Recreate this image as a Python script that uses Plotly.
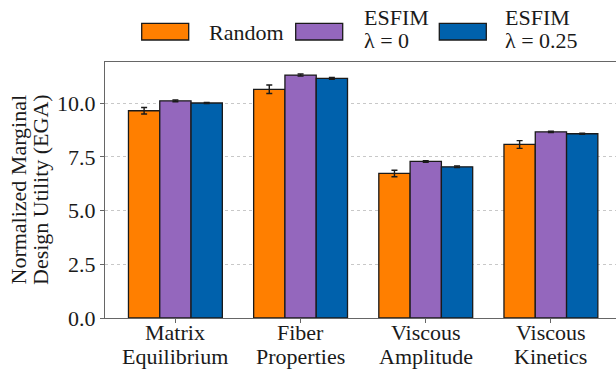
import plotly.graph_objects as go

# ---- data -------------------------------------------------------------
categories = ["Matrix Equilibrium", "Fiber Properties", "Viscous Amplitude", "Viscous Kinetics"]
cat_line1 = ["Matrix", "Fiber", "Viscous", "Viscous"]
cat_line2 = ["Equilibrium", "Properties", "Amplitude", "Kinetics"]

random_vals = [9.65, 10.65, 6.73, 8.08]
random_err = [0.15, 0.20, 0.15, 0.18]

esfim0_vals = [10.11, 11.31, 7.29, 8.67]
esfim0_err = [0.04, 0.05, 0.04, 0.03]

esfim25_vals = [10.01, 11.16, 7.04, 8.58]
esfim25_err = [0.03, 0.04, 0.04, 0.03]

series_names = ["Random", "ESFIM\nλ = 0", "ESFIM\nλ = 0.25"]
series_colors = ["#FF7F00", "#9467BD", "#0061AC"]

y_ticks = [0.0, 2.5, 5.0, 7.5, 10.0]
y_title_lines = ["Normalized Marginal", "Design Utility (EGA)"]

# ---- style ------------------------------------------------------------
FONT = "'Liberation Serif', 'DejaVu Serif', serif"
FS = 22
TXT = "#1a1a1a"
SPINE = "#666666"
W, H = 616, 371
ML, MT, MB = 105, 62, 53
PLOT_W = W - ML
PLOT_H = H - MT - MB


def px_x(px):
    """pixel column -> paper x"""
    return (px - ML) / PLOT_W


def px_y(py):
    """pixel row -> paper y"""
    return (H - MB - py) / PLOT_H


x_pos = list(range(len(categories)))
fig = go.Figure()

for vals, errs, name, color in zip(
    [random_vals, esfim0_vals, esfim25_vals],
    [random_err, esfim0_err, esfim25_err],
    series_names,
    series_colors,
):
    fig.add_trace(
        go.Bar(
            x=x_pos,
            y=vals,
            name=name.replace("\n", " "),
            marker=dict(color=color, line=dict(color=TXT, width=1.3)),
            error_y=dict(type="data", array=errs, color=TXT, thickness=1.4, width=3),
            showlegend=False,
        )
    )

fig.update_layout(
    width=W,
    height=H,
    margin=dict(l=ML, r=0, t=MT, b=MB),
    paper_bgcolor="white",
    plot_bgcolor="white",
    barmode="group",
    bargap=0.25,
    bargroupgap=0.0,
    font=dict(family=FONT, size=FS, color=TXT),
)

fig.update_xaxes(
    range=[-0.5625, 3.52],
    tickvals=x_pos,
    showticklabels=False,
    ticks="outside",
    ticklen=4,
    tickcolor=SPINE,
    showgrid=False,
    showline=True,
    linecolor=SPINE,
    linewidth=1.2,
    mirror=True,
    zeroline=False,
)

fig.update_yaxes(
    range=[0, 11.92],
    tickvals=y_ticks,
    tickformat=".1f",
    ticks="outside",
    ticklen=4,
    tickcolor=SPINE,
    tickfont=dict(family=FONT, size=FS, color=TXT),
    showgrid=True,
    gridcolor="#c8c8c8",
    griddash="dot",
    gridwidth=1,
    showline=True,
    linecolor=SPINE,
    linewidth=1.2,
    zeroline=False,
)

annotations = []

# two-line category labels under each group
for i in x_pos:
    annotations.append(dict(x=i, y=px_y(332), xref="x", yref="paper", text=cat_line1[i],
                            showarrow=False, xanchor="center", yanchor="middle"))
    annotations.append(dict(x=i, y=px_y(356), xref="x", yref="paper", text=cat_line2[i],
                            showarrow=False, xanchor="center", yanchor="middle"))

# two-line rotated y-axis title
for line, cx in zip(y_title_lines, [17.5, 40.0]):
    annotations.append(dict(x=px_x(cx), y=0.5, xref="paper", yref="paper", text=line,
                            textangle=-90, showarrow=False, xanchor="center", yanchor="middle"))

# legend: patches and labels above the plot
shapes = []
patch_left = [141.7, 295.7, 439.3]
label_left = [206.7, 361.7, 503.3]
for name, color, pl, ll in zip(series_names, series_colors, patch_left, label_left):
    shapes.append(dict(type="rect", xref="paper", yref="paper",
                       x0=px_x(pl), x1=px_x(pl + 47), y0=px_y(40), y1=px_y(23.3),
                       fillcolor=color, line=dict(color=TXT, width=1.3)))
    lines = name.split("\n")
    if len(lines) == 1:
        annotations.append(dict(x=px_x(ll), y=px_y(32.3), xref="paper", yref="paper", text=lines[0],
                                showarrow=False, xanchor="left", yanchor="middle"))
    else:
        for ln, cy in zip(lines, [17.0, 40.5]):
            annotations.append(dict(x=px_x(ll), y=px_y(cy), xref="paper", yref="paper", text=ln,
                                    showarrow=False, xanchor="left", yanchor="middle"))

fig.update_layout(annotations=annotations, shapes=shapes)

fig.write_html("out.html")
